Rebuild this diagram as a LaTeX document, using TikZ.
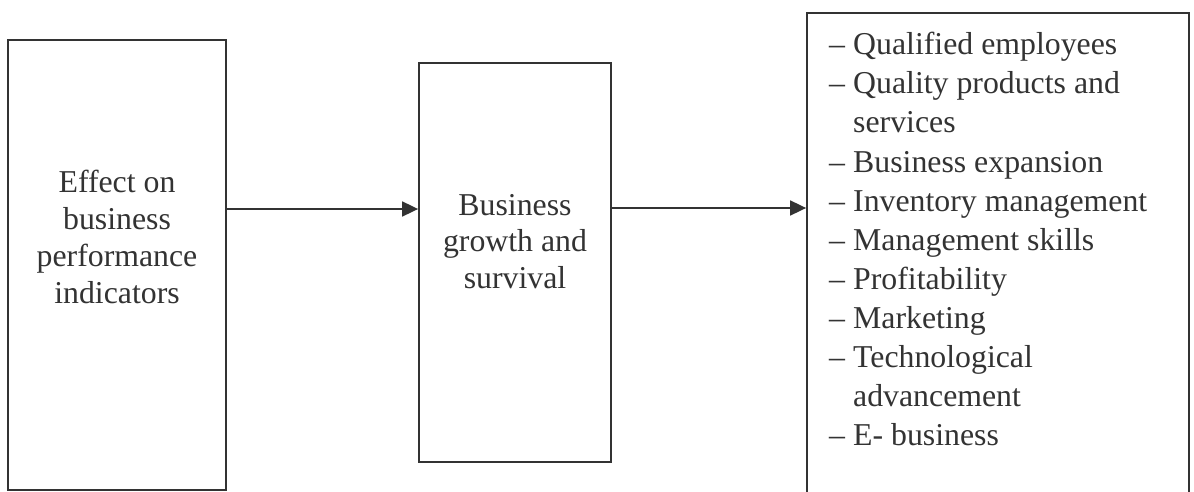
\documentclass[tikz,border=0pt]{standalone}
\usepackage{fontspec}
\setmainfont{Liberation Serif}
\usetikzlibrary{arrows.meta}
\definecolor{ink}{HTML}{333333}
\begin{document}
\begin{tikzpicture}[x=1pt,y=-1pt,
  box/.style={draw=ink, line width=1.8pt, rectangle, inner sep=0pt},
  txt/.style={text=ink, inner sep=0pt, anchor=base, font=\fontsize{31.8pt}{38pt}\selectfont},
  ltxt/.style={txt, anchor=base west},
  arr/.style={draw=ink, line width=1.8pt, -{Triangle[length=16pt,width=15pt]}}]
\useasboundingbox (0,0) rectangle (1194,492);
\clip (0,0) rectangle (1194,492);
\fill[white] (0,0) rectangle (1194,492);
% boxes
\node[box, minimum width=218pt, minimum height=450pt] (b1) at (117,265) {};
\node[box, minimum width=192pt, minimum height=399pt] (b2) at (515,262.5) {};
\node[box, minimum width=382pt, minimum height=507pt] (b3) at (998,266.5) {};
% box 1 text
\node[txt] (t11) at (117,192) {Effect on};
\node[txt] (t12) at (117,229) {business};
\node[txt] (t13) at (117,266) {performance};
\node[txt] (t14) at (117,303) {indicators};
% box 2 text
\node[txt] (t21) at (515,215) {Business};
\node[txt] (t22) at (515,251.5) {growth and};
\node[txt] (t23) at (515,288) {survival};
% box 3 list
\foreach \i/\d/\t in {0/1/Qualified employees, 1/1/Quality products and, 2/0/services,
  3/1/Business expansion, 4/1/Inventory management, 5/1/Management skills,
  6/1/Profitability, 7/1/Marketing, 8/1/Technological, 9/0/advancement, 10/1/E- business}{
  \ifnum\d=1 \node[ltxt] (d\i) at (829,55+39*\i) {–};\fi
  \node[ltxt] (l\i) at (853,55+39*\i) {\t};
}
% connectors
\coordinate (y1) at (0,209);
\coordinate (y2) at (0,208);
\draw[arr] (b1.east |- y1) -- (b2.west |- y1);
\draw[arr] (b2.east |- y2) -- (b3.west |- y2);
\end{tikzpicture}
\end{document}
